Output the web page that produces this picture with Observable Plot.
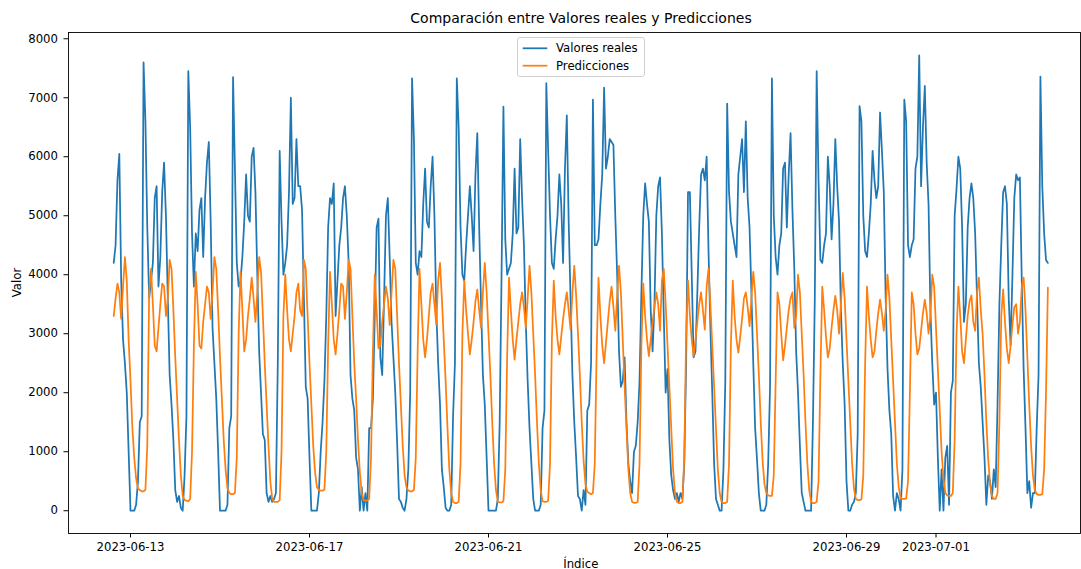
<!DOCTYPE html>
<html>
<head>
<meta charset="utf-8">
<script src="https://cdn.jsdelivr.net/npm/d3@7"></script>
<script src="https://cdn.jsdelivr.net/npm/@observablehq/plot@0.6"></script>
<style>
  html, body { margin: 0; padding: 0; background: #ffffff; }
  #chart svg { display: block; font-family: "DejaVu Sans", sans-serif; }
</style>
</head>
<body>
<div id="chart"></div>
<script>
// Hourly series, first reading at 2023-06-12 15:00 (UTC), one row per day.
const seriesStart = Date.UTC(2023, 5, 12, 15);

const realValues = [
  /* 06-12 15h- */ [4200, 4500, 5600, 6050, 3900, 2900, 2500, 2000, 1000],
  /* 06-13 */ [0, 0, 0, 100, 500, 1500, 1600, 7600, 6600, 4800, 3600, 3900, 4200, 5300, 5500, 3800, 4300, 5400, 5900, 5000, 3600, 2300, 1800, 1200],
  /* 06-14 */ [350, 150, 250, 50, 0, 600, 1600, 7450, 6500, 4700, 3800, 4700, 4400, 5100, 5300, 4300, 5300, 5900, 6250, 4900, 3100, 2500, 1900, 1000],
  /* 06-15 */ [0, 0, 0, 0, 100, 1400, 1600, 7350, 5800, 4200, 3800, 3900, 4300, 4900, 5700, 5000, 4900, 6000, 6150, 5400, 4000, 2700, 2000, 1300],
  /* 06-16 */ [1200, 300, 150, 250, 150, 200, 300, 2500, 6100, 4900, 4000, 4200, 4500, 5400, 7000, 5200, 5300, 6300, 5500, 5500, 5100, 3600, 2100, 1900],
  /* 06-17 */ [900, 0, 0, 0, 0, 300, 1000, 1500, 2200, 3300, 4800, 5300, 5200, 5550, 3300, 3900, 4500, 4800, 5300, 5500, 5000, 4200, 2300, 1900],
  /* 06-18 */ [1700, 900, 700, 0, 400, 0, 300, 0, 1400, 1400, 1900, 3300, 4800, 4950, 2600, 2300, 3600, 5000, 5300, 4300, 3200, 2600, 2000, 1150],
  /* 06-19 */ [200, 150, 50, 0, 200, 700, 2000, 7330, 6300, 4200, 4000, 4400, 4300, 5200, 5800, 4900, 4800, 5500, 6000, 5000, 3400, 2500, 1800, 700],
  /* 06-20 */ [400, 50, 0, 0, 100, 1600, 2500, 7330, 6500, 4800, 4000, 3900, 4500, 5000, 5500, 5000, 4400, 5700, 6400, 4800, 3500, 2300, 1800, 900],
  /* 06-21 */ [0, 0, 0, 0, 0, 200, 1500, 4000, 6850, 4600, 4000, 4100, 4200, 4700, 5800, 4700, 4800, 6300, 5300, 4500, 3200, 2200, 1400, 800],
  /* 06-22 */ [200, 0, 0, 0, 100, 1400, 1700, 7250, 6100, 5000, 4200, 4100, 4600, 5000, 5700, 5200, 4200, 5800, 6700, 4900, 3600, 2300, 1500, 900],
  /* 06-23 */ [250, 200, 0, 350, 100, 1700, 1800, 2500, 6970, 4500, 4500, 4600, 5200, 5700, 7170, 5800, 6000, 6300, 6250, 6200, 5000, 4000, 2700, 2100],
  /* 06-24 */ [2200, 2600, 1500, 800, 500, 300, 1000, 1100, 1500, 2200, 3700, 5000, 5550, 5200, 4900, 3400, 2700, 3500, 5000, 5500, 5650, 4700, 3300, 2000],
  /* 06-25 */ [2400, 1200, 600, 350, 200, 300, 150, 300, 200, 800, 2500, 5400, 5400, 4000, 2600, 2700, 3700, 4800, 5700, 5800, 5600, 6000, 4400, 3100],
  /* 06-26 */ [2000, 800, 200, 100, 0, 0, 700, 2200, 6900, 5400, 4900, 4700, 4500, 4300, 5700, 6000, 6300, 5400, 6600, 5300, 4800, 3700, 2500, 1400],
  /* 06-27 */ [870, 300, 0, 0, 0, 100, 800, 2100, 7330, 5000, 4300, 4000, 4500, 4700, 5800, 5900, 4800, 5700, 6400, 5100, 4100, 2700, 2000, 1100],
  /* 06-28 */ [300, 150, 0, 0, 0, 0, 1500, 3600, 7450, 5600, 4250, 4200, 4500, 4700, 6000, 5500, 4600, 5200, 6300, 5500, 4900, 3400, 2500, 1800],
  /* 06-29 */ [500, 0, 0, 100, 150, 300, 1300, 6860, 6600, 5000, 4400, 4300, 4700, 5200, 6100, 5600, 5300, 5500, 6750, 6100, 5400, 3600, 2400, 1700],
  /* 06-30 */ [1300, 250, 0, 300, 200, 0, 700, 6970, 6600, 4500, 4300, 4500, 4600, 5800, 6000, 7720, 5500, 6500, 7200, 5900, 5200, 3400, 2500, 1800],
  /* 07-01 */ [2000, 900, 0, 700, 0, 900, 1100, 100, 2000, 2200, 5000, 5450, 6000, 5800, 4800, 3200, 3500, 4800, 5300, 5550, 5300, 4700, 3600, 2500],
  /* 07-02 */ [2100, 1500, 900, 100, 600, 500, 200, 700, 400, 1800, 3500, 4500, 5400, 5500, 5200, 3600, 2800, 4000, 5300, 5700, 5600, 5650, 3900, 2400],
  /* 07-03 -12h */ [1400, 300, 500, 50, 300, 300, 1400, 2300, 7360, 5500, 4700, 4250, 4200]
];

const predictions = [
  /* 06-12 15h- */ [3300, 3600, 3850, 3700, 3250, 3800, 4300, 3900, 2900],
  /* 06-13 */ [2200, 1400, 900, 550, 380, 350, 330, 330, 350, 1100, 3700, 4100, 3500, 2800, 2700, 3100, 3500, 3850, 3800, 3300, 3600, 4250, 4100, 3400],
  /* 06-14 */ [2600, 1900, 1200, 600, 250, 180, 170, 160, 200, 1000, 2800, 4050, 3500, 2800, 2750, 3200, 3500, 3800, 3700, 3250, 3700, 4300, 4100, 3400],
  /* 06-15 */ [2600, 1900, 1200, 700, 380, 300, 280, 280, 300, 900, 3000, 4050, 3400, 2700, 2900, 3300, 3600, 3950, 3600, 3200, 3700, 4300, 4050, 3300],
  /* 06-16 */ [2500, 1800, 1100, 500, 200, 150, 150, 150, 180, 1000, 3300, 4000, 3400, 2900, 2700, 3000, 3300, 3700, 3850, 3400, 3300, 4250, 4100, 3300],
  /* 06-17 */ [2500, 1800, 1100, 650, 400, 350, 340, 340, 360, 1000, 2800, 4050, 3500, 2900, 2650, 3000, 3400, 3850, 3800, 3250, 3700, 4250, 4100, 3300],
  /* 06-18 */ [2500, 1900, 1200, 650, 300, 180, 170, 170, 200, 900, 2700, 4000, 3400, 2750, 2800, 3200, 3500, 3800, 3600, 3150, 3700, 4250, 4100, 3300],
  /* 06-19 */ [2500, 1800, 1100, 600, 400, 340, 330, 330, 350, 900, 2700, 4100, 3500, 2900, 2600, 2900, 3300, 3700, 3850, 3500, 3150, 3900, 4200, 3600],
  /* 06-20 */ [2900, 2200, 1400, 700, 300, 150, 130, 130, 150, 800, 3000, 3900, 3400, 3000, 2650, 2900, 3200, 3550, 3750, 3400, 3100, 3700, 4200, 3700],
  /* 06-21 */ [3000, 2300, 1500, 800, 350, 150, 140, 140, 160, 700, 2600, 3950, 3400, 2900, 2560, 2900, 3200, 3500, 3700, 3450, 3100, 3600, 4150, 3700],
  /* 06-22 */ [3000, 2300, 1500, 800, 350, 160, 150, 150, 170, 800, 2900, 3900, 3300, 2900, 2650, 2950, 3250, 3500, 3700, 3400, 3070, 3700, 4150, 3650],
  /* 06-23 */ [3000, 2300, 1500, 850, 450, 320, 300, 280, 300, 800, 2700, 3950, 3300, 2800, 2500, 2850, 3200, 3550, 3800, 3450, 3050, 3650, 4150, 3700],
  /* 06-24 */ [2900, 2100, 1400, 700, 300, 150, 135, 135, 150, 800, 2800, 3850, 3300, 2900, 2620, 2900, 3200, 3450, 3700, 3500, 3050, 3900, 4100, 3500],
  /* 06-25 */ [2800, 2100, 1400, 700, 300, 150, 130, 130, 150, 900, 3000, 3900, 3300, 2900, 2620, 2900, 3200, 3500, 3700, 3400, 3070, 3800, 4100, 3500],
  /* 06-26 */ [2800, 2100, 1400, 700, 300, 150, 130, 130, 150, 800, 2800, 3900, 3300, 2900, 2680, 2950, 3250, 3600, 3700, 3450, 3130, 3600, 4050, 3700],
  /* 06-27 */ [3000, 2300, 1500, 850, 450, 300, 260, 250, 250, 600, 2200, 3700, 3500, 3000, 2550, 2800, 3100, 3400, 3600, 3700, 3100, 3300, 4000, 3700],
  /* 06-28 */ [3000, 2300, 1500, 800, 350, 150, 130, 130, 150, 500, 2300, 3800, 3400, 2950, 2600, 2750, 3100, 3400, 3640, 3400, 3000, 3500, 4030, 3600],
  /* 06-29 */ [2900, 2200, 1500, 800, 380, 200, 180, 180, 190, 600, 2500, 3800, 3300, 2900, 2600, 2700, 3050, 3350, 3580, 3350, 3050, 3400, 4000, 3600],
  /* 06-30 */ [2900, 2200, 1500, 800, 400, 220, 200, 200, 210, 500, 2000, 3700, 3500, 3000, 2650, 2750, 3050, 3350, 3580, 3350, 3000, 3300, 4000, 3800],
  /* 07-01 */ [3100, 2400, 1700, 1000, 550, 300, 260, 250, 250, 300, 1200, 3000, 3800, 3300, 2700, 2500, 2900, 3300, 3550, 3650, 3200, 3050, 3700, 3950],
  /* 07-02 */ [3400, 3000, 2300, 1500, 870, 450, 250, 200, 200, 300, 1500, 3300, 3750, 3200, 2750, 2500, 2800, 3150, 3450, 3500, 3000, 3200, 3800, 3950],
  /* 07-03 -12h */ [3400, 2600, 1800, 1100, 600, 350, 280, 270, 270, 280, 700, 2000, 3780]
];

const seriesNames = ["Valores reales", "Predicciones"];
const seriesColors = ["#1f77b4", "#ff7f0e"];
const xTickLabels = ["2023-06-13", "2023-06-17", "2023-06-21", "2023-06-25", "2023-06-29", "2023-07-01"];
const yTickValues = [0, 1000, 2000, 3000, 4000, 5000, 6000, 7000, 8000];

const HOUR = 3600 * 1000;
const DAY = 24 * HOUR;

function toRows(days, name) {
  return days.flat().map((v, i) => ({ t: new Date(seriesStart + i * HOUR), v, name }));
}
const realRows = toRows(realValues, seriesNames[0]);
const predRows = toRows(predictions, seriesNames[1]);

const parseDay = d3.utcParse("%Y-%m-%d");
const xTicks = xTickLabels.map(parseDay);
const anchorDay = Date.UTC(2023, 5, 13);
const xDomain = [new Date(anchorDay - 1.3855 * DAY), new Date(anchorDay + 21.229 * DAY)];

const W = 1081, H = 569;
const M = { left: 68, right: 1, top: 32, bottom: 36 };

const chart = Plot.plot({
  width: W,
  height: H,
  marginLeft: M.left,
  marginRight: M.right,
  marginTop: M.top,
  marginBottom: M.bottom,
  style: { fontFamily: "DejaVu Sans", fontSize: "11.7px", background: "#ffffff", color: "#000000" },
  x: { type: "utc", domain: xDomain },
  y: { domain: [-386, 8106] },
  marks: [
    Plot.line(realRows, { x: "t", y: "v", stroke: seriesColors[0], strokeWidth: 1.75 }),
    Plot.line(predRows, { x: "t", y: "v", stroke: seriesColors[1], strokeWidth: 1.75 }),
    Plot.frame({ stroke: "#000000", strokeWidth: 0.9 }),
    Plot.axisX({
      ticks: xTicks, tickFormat: d3.utcFormat("%Y-%m-%d"), label: null,
      tickSize: 4.5, tickPadding: 5, stroke: "#000000", fill: "#000000", fontSize: 11.7
    }),
    Plot.axisY({
      ticks: yTickValues, tickFormat: d3.format("d"), label: null,
      tickSize: 4.5, tickPadding: 6, stroke: "#000000", fill: "#000000", fontSize: 11.7
    })
  ]
});

document.getElementById("chart").appendChild(chart);

// Title, axis labels and legend on top of the plot
const svg = d3.select(chart);
const font = "DejaVu Sans";

svg.append("text")
  .attr("x", 581).attr("y", 22.5)
  .attr("text-anchor", "middle")
  .attr("font-family", font).attr("font-size", 14)
  .attr("fill", "#000")
  .text("Comparación entre Valores reales y Predicciones");

svg.append("text")
  .attr("x", 580.8).attr("y", 567.5)
  .attr("text-anchor", "middle")
  .attr("font-family", font).attr("font-size", 11.7)
  .attr("fill", "#000")
  .text("Índice");

svg.append("text")
  .attr("transform", "translate(20.8,282.5) rotate(-90)")
  .attr("text-anchor", "middle")
  .attr("font-family", font).attr("font-size", 11.7)
  .attr("fill", "#000")
  .text("Valor");

const legend = svg.append("g");
legend.append("rect")
  .attr("x", 517.5).attr("y", 37.5)
  .attr("width", 127).attr("height", 39)
  .attr("rx", 2.5)
  .attr("fill", "#ffffff").attr("fill-opacity", 0.8)
  .attr("stroke", "#cccccc").attr("stroke-width", 0.9);

seriesNames.forEach((name, i) => {
  const cy = 48.3 + i * 17.4;
  legend.append("line")
    .attr("x1", 522.7).attr("x2", 547.3)
    .attr("y1", cy).attr("y2", cy)
    .attr("stroke", seriesColors[i]).attr("stroke-width", 1.75)
    .attr("stroke-linecap", "butt");
  legend.append("text")
    .attr("x", 556).attr("y", cy + 4)
    .attr("text-anchor", "start")
    .attr("font-family", font).attr("font-size", 11.7)
    .attr("fill", "#000")
    .text(name);
});
</script>
</body>
</html>
